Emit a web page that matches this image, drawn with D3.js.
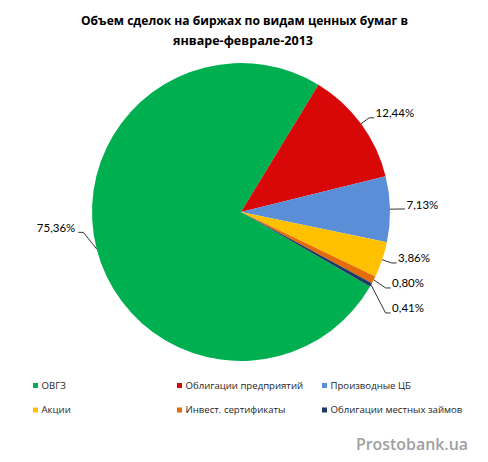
<!DOCTYPE html>
<html><head><meta charset="utf-8">
<script src="https://cdn.jsdelivr.net/npm/d3@7"></script>
<style>body{margin:0;background:#fff}svg{display:block}</style>
</head><body>
<svg id="c" width="488" height="462"></svg>
<script>
// ---- data ----
const categories = ["ОВГЗ","Облигации предприятий","Производные ЦБ","Акции","Инвест. сертификаты","Облигации местных займов"];
const shares = [75.36, 12.44, 7.13, 3.86, 0.80, 0.41];
const labels = ["75,36%","12,44%","7,13%","3,86%","0,80%","0,41%"];
const colors = ["#00B050","#D80808","#5A8FD8","#FFC000","#E46C0A","#1F3864"];
const titleLines = ["Объем сделок на биржах по видам ценных бумаг в","январе-феврале-2013"];

// ---- layout ----
const W = 488, H = 462;
const cx = 241, cy = 212, R = 149;
const firstSliceAngle = 120; // degrees, clockwise from top
const svg = d3.select("#c");

// title
svg.selectAll("text.title").data(titleLines).enter().append("text")
  .attr("class","title")
  .attr("x", (d,i)=> i===0 ? 244.5 : 243)
  .attr("y", (d,i)=> 25 + i*19.5)
  .attr("text-anchor","middle")
  .attr("font-family","'Open Sans', sans-serif")
  .attr("font-weight","bold")
  .attr("font-size", 13)
  .attr("textLength", (d,i)=> i===0 ? 327 : 140)
  .attr("lengthAdjust","spacingAndGlyphs")
  .attr("fill","#000")
  .text(d=>d);

// pie
const data = categories.map((c,i)=>({cat:c, v:shares[i], label:labels[i], color:colors[i]}));
const a0 = firstSliceAngle*Math.PI/180;
const pie = d3.pie().value(d=>d.v).sort(null).startAngle(a0).endAngle(a0+2*Math.PI);
const arcs = pie(data);
const arc = d3.arc().innerRadius(0).outerRadius(R);
const g = svg.append("g").attr("transform",`translate(${cx},${cy})`);
g.selectAll("path").data(arcs).enter().append("path")
  .attr("d", arc).attr("fill", d=>d.data.color);

// labels with leader lines
const leftLift = -7*Math.PI/180;
const lab = arcs.map(d=>{
  const m = (d.startAngle+d.endAngle)/2;
  const right = Math.sin(m) > 0;
  const la = right ? m : m - leftLift;
  return {d, m, right, pushed:false,
    p0:[R*Math.sin(m), -R*Math.cos(m)],
    ex:(R+10)*Math.sin(la), ey:-(R+10)*Math.cos(la)};
});
// simple collision resolution on the right side
const rights = lab.filter(l=>l.right).sort((a,b)=>a.ey-b.ey);
for (let i=1;i<rights.length;i++){
  const prev = rights[i-1], cur = rights[i];
  if (cur.ey - prev.ey < 25){
    cur.ey = prev.ey + 25;
    cur.ex = Math.max(cur.ex, prev.pushed ? prev.ex : prev.ex - 6);
    cur.pushed = true;
  }
}
lab.forEach(l=>{
  const hx = l.right ? l.ex + 5 : l.ex - 5;
  g.append("path")
    .attr("d", d3.line()([l.p0,[l.ex,l.ey],[hx,l.ey]]))
    .attr("fill","none").attr("stroke","#000").attr("stroke-width",0.8);
  g.append("text")
    .attr("x", l.right ? l.ex + 6.5 : l.ex - 8)
    .attr("y", l.ey - 4.5)
    .attr("dy","0.35em")
    .attr("text-anchor", l.right ? "start" : "end")
    .attr("font-family","Lato, 'Open Sans', sans-serif")
    .attr("font-size", 11.5)
    .attr("fill","#000")
    .text(l.d.data.label);
});

// legend
const colX = [33, 177, 322];
const rowY = [385.5, 410];
const leg = svg.selectAll("g.leg").data(data).enter().append("g")
  .attr("class","leg")
  .attr("transform",(d,i)=>`translate(${colX[i%3]},${rowY[Math.floor(i/3)]})`);
leg.append("rect").attr("x",0).attr("y",-2.5).attr("width",5).attr("height",5).attr("fill",d=>d.color);
leg.append("text").attr("x",8.5).attr("y",0).attr("dy","0.35em")
  .attr("font-family","'Open Sans', sans-serif").attr("font-size",9.6)
  .attr("fill","#262626").text(d=>d.cat);

// watermark
svg.append("text").attr("x",356).attr("y",450)
  .attr("font-family","'Open Sans', sans-serif").attr("font-weight",600)
  .attr("font-size",16).attr("fill","#a0a0a0")
  .attr("textLength",112).attr("lengthAdjust","spacingAndGlyphs")
  .text("Prostobank.ua");
</script>
</body></html>
